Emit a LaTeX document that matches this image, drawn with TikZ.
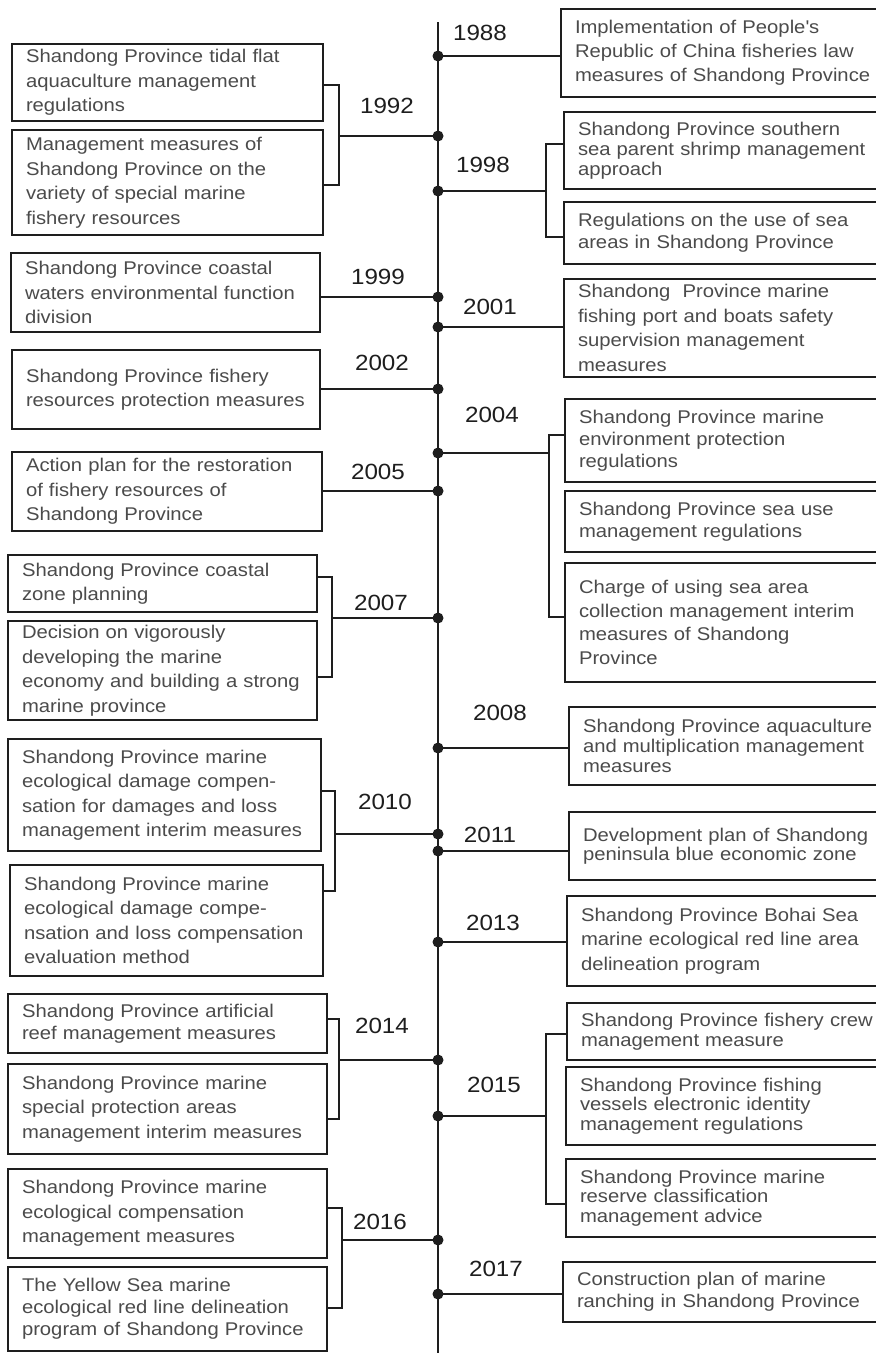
\documentclass[tikz,border=0pt]{standalone}
\usepackage{fontspec}
\setmainfont{Liberation Sans}[FakeStretch=1.1]
\definecolor{txt}{RGB}{75,75,75}
\definecolor{ln}{RGB}{30,30,30}
\tikzset{
 box/.style={draw=ln, line width=2pt, rectangle, anchor=north west, inner xsep=14pt, inner ysep=0pt, outer sep=0pt, align=left, text=txt, font=\fontsize{18.4}{24.5}\selectfont},
 bs/.style={font=\fontsize{18.4}{#1}\selectfont},
 yr/.style={text=ln, font=\fontsize{22}{26}\selectfont, inner sep=0pt},
 tdot/.style={circle, fill=ln, minimum size=11pt, inner sep=0pt},
 conn/.style={draw=ln, line width=2pt},
}
\begin{document}
\begin{tikzpicture}[x=1pt,y=-1pt]
\useasboundingbox (0,0) rectangle (876,1353);
\clip (0,0) rectangle (876,1353);
\fill[white] (0,0) rectangle (876,1353);

% ---- left boxes
\node[box, text width=283pt, minimum height=77pt] (L1) at (12,44) {Shandong Province tidal flat\\aquaculture management\\regulations};
\node[box, text width=283pt, minimum height=105pt] (L2) at (12,130) {Management measures of\\Shandong Province on the\\variety of special marine\\fishery resources};
\node[box, text width=281pt, minimum height=79pt] (L3) at (11,253) {Shandong Province coastal\\waters environmental function\\division};
\node[box, text width=280pt, minimum height=79pt] (L4) at (12,350) {Shandong Province fishery\\resources protection measures};
\node[box, text width=282pt, minimum height=79pt] (L5) at (12,452) {Action plan for the restoration\\of fishery resources of\\Shandong Province};
\node[box, text width=281pt, minimum height=57pt] (L6) at (8,555) {Shandong Province coastal\\zone planning};
\node[box, text width=281pt, minimum height=99pt] (L7) at (8,621) {Decision on vigorously\\developing the marine\\economy and building a strong\\marine province};
\node[box, text width=285pt, minimum height=112pt] (L8) at (8,739) {Shandong Province marine\\ecological damage compen-\\sation for damages and loss\\management interim measures};
\node[box, text width=285pt, minimum height=111pt] (L9) at (10,865) {Shandong Province marine\\ecological damage compe-\\nsation and loss compensation\\evaluation method};
\node[box, bs=22, text width=291pt, minimum height=59pt] (L10) at (8,994) {Shandong Province artificial\\reef management measures};
\node[box, text width=291pt, minimum height=90pt] (L11) at (8,1064) {Shandong Province marine\\special protection areas\\management interim measures};
\node[box, text width=291pt, minimum height=89pt] (L12) at (8,1169) {Shandong Province marine\\ecological compensation\\management measures};
\node[box, bs=22, text width=291pt, minimum height=84pt] (L13) at (8,1267) {The Yellow Sea marine\\ecological red line delineation\\program of Shandong Province};

% ---- right boxes
\node[box, bs=24, text width=311pt, minimum height=88pt] (R1) at (561,9) {Implementation of People\textquotesingle s\\Republic of China fisheries law\\measures of Shandong Province};
\node[box, bs=20, text width=308pt, minimum height=77pt] (R2) at (564,112) {Shandong Province southern\\sea parent shrimp management\\approach};
\node[box, bs=22, text width=308pt, minimum height=62pt] (R3) at (564,202) {Regulations on the use of sea\\areas in Shandong Province};
\node[box, text width=308pt, minimum height=98pt] (R4) at (564,279) {Shandong\ \ Province marine\\fishing port and boats safety\\supervision management\\measures};
\node[box, bs=22, text width=307pt, minimum height=83pt] (R5) at (565,399) {Shandong Province marine\\environment protection\\regulations};
\node[box, bs=22, text width=307pt, minimum height=61pt] (R6) at (565,491) {Shandong Province sea use\\management regulations};
\node[box, bs=23.5, text width=307pt, minimum height=119pt] (R7) at (565,563) {Charge of using sea area\\collection management interim\\measures of Shandong\\Province};
\node[box, bs=20, text width=303pt, minimum height=78pt] (R8) at (569,707) {Shandong Province aquaculture\\and multiplication management\\measures};
\node[box, bs=19.5, text width=303pt, minimum height=68pt] (R9) at (569,812) {Development plan of Shandong\\peninsula blue economic zone};
\node[box, text width=305pt, minimum height=90pt] (R10) at (567,896) {Shandong Province Bohai Sea\\marine ecological red line area\\delineation program};
\node[box, bs=19.5, text width=305pt, minimum height=57pt] (R11) at (567,1003) {Shandong Province fishery crew\\management measure};
\node[box, bs=19.5, text width=306pt, minimum height=78pt] (R12) at (566,1067) {Shandong Province fishing\\vessels electronic identity\\management regulations};
\node[box, bs=19.5, text width=306pt, minimum height=78pt] (R13) at (566,1159) {Shandong Province marine\\reserve classification\\management advice};
\node[box, bs=22, text width=309pt, minimum height=60pt] (R14) at (563,1262) {Construction plan of marine\\ranching in Shandong Province};

% ---- main line
\coordinate (top) at (438,22);
\coordinate (bot) at (438,1360);
\draw[conn] (top) -- (bot);

% ---- dots
\node[tdot] (d1988) at (438,56) {};
\node[tdot] (d1992) at (438,136) {};
\node[tdot] (d1998) at (438,191) {};
\node[tdot] (d1999) at (438,297) {};
\node[tdot] (d2001) at (438,327) {};
\node[tdot] (d2002) at (438,389) {};
\node[tdot] (d2004) at (438,453) {};
\node[tdot] (d2005) at (438,491) {};
\node[tdot] (d2007) at (438,618) {};
\node[tdot] (d2008) at (438,748) {};
\node[tdot] (d2010) at (438,834) {};
\node[tdot] (d2011) at (438,851) {};
\node[tdot] (d2013) at (438,942) {};
\node[tdot] (d2014) at (438,1060) {};
\node[tdot] (d2015) at (438,1116) {};
\node[tdot] (d2016) at (438,1240) {};
\node[tdot] (d2017) at (438,1294) {};

% ---- years
\node[yr] (y1988) at (480,33) {1988};
\node[yr] (y1992) at (387,106) {1992};
\node[yr] (y1998) at (483,165) {1998};
\node[yr] (y1999) at (378,277) {1999};
\node[yr] (y2001) at (490,307) {2001};
\node[yr] (y2002) at (382,363) {2002};
\node[yr] (y2004) at (492,415) {2004};
\node[yr] (y2005) at (378,472) {2005};
\node[yr] (y2007) at (381,603) {2007};
\node[yr] (y2008) at (500,713) {2008};
\node[yr] (y2010) at (385,802) {2010};
\node[yr] (y2011) at (490,835) {2011};
\node[yr] (y2013) at (493,923) {2013};
\node[yr] (y2014) at (382,1026) {2014};
\node[yr] (y2015) at (494,1085) {2015};
\node[yr] (y2016) at (380,1222) {2016};
\node[yr] (y2017) at (496,1269) {2017};

% ---- single connectors
\draw[conn] (d1988.center) -- (d1988.center -| R1.west);
\draw[conn] (d1999.center) -- (d1999.center -| L3.east);
\draw[conn] (d2001.center) -- (d2001.center -| R4.west);
\draw[conn] (d2002.center) -- (d2002.center -| L4.east);
\draw[conn] (d2005.center) -- (d2005.center -| L5.east);
\draw[conn] (d2008.center) -- (d2008.center -| R8.west);
\draw[conn] (d2011.center) -- (d2011.center -| R9.west);
\draw[conn] (d2013.center) -- (d2013.center -| R10.west);
\draw[conn] (d2017.center) -- (d2017.center -| R14.west);

% ---- brackets
\coordinate (t1992) at (339,85);  \coordinate (u1992) at (339,185);
\draw[conn] (L1.east |- t1992) -- (t1992) -- (u1992) -- (L2.east |- u1992);
\draw[conn] (d1992.center -| t1992) -- (d1992.center);

\coordinate (t1998) at (546,144); \coordinate (u1998) at (546,237);
\draw[conn] (R2.west |- t1998) -- (t1998) -- (u1998) -- (R3.west |- u1998);
\draw[conn] (d1998.center -| t1998) -- (d1998.center);

\coordinate (t2004) at (549,435); \coordinate (u2004) at (549,617);
\draw[conn] (R5.west |- t2004) -- (t2004) -- (u2004) -- (R7.west |- u2004);
\draw[conn] (d2004.center -| t2004) -- (d2004.center);

\coordinate (t2007) at (332,577); \coordinate (u2007) at (332,677);
\draw[conn] (L6.east |- t2007) -- (t2007) -- (u2007) -- (L7.east |- u2007);
\draw[conn] (d2007.center -| t2007) -- (d2007.center);

\coordinate (t2010) at (335,791); \coordinate (u2010) at (335,891);
\draw[conn] (L8.east |- t2010) -- (t2010) -- (u2010) -- (L9.east |- u2010);
\draw[conn] (d2010.center -| t2010) -- (d2010.center);

\coordinate (t2014) at (339,1019); \coordinate (u2014) at (339,1119);
\draw[conn] (L10.east |- t2014) -- (t2014) -- (u2014) -- (L11.east |- u2014);
\draw[conn] (d2014.center -| t2014) -- (d2014.center);

\coordinate (t2015) at (546,1034); \coordinate (u2015) at (546,1204);
\draw[conn] (R11.west |- t2015) -- (t2015) -- (u2015) -- (R13.west |- u2015);
\draw[conn] (d2015.center -| t2015) -- (d2015.center);

\coordinate (t2016) at (342,1208); \coordinate (u2016) at (342,1308);
\draw[conn] (L12.east |- t2016) -- (t2016) -- (u2016) -- (L13.east |- u2016);
\draw[conn] (d2016.center -| t2016) -- (d2016.center);
\end{tikzpicture}
\end{document}
